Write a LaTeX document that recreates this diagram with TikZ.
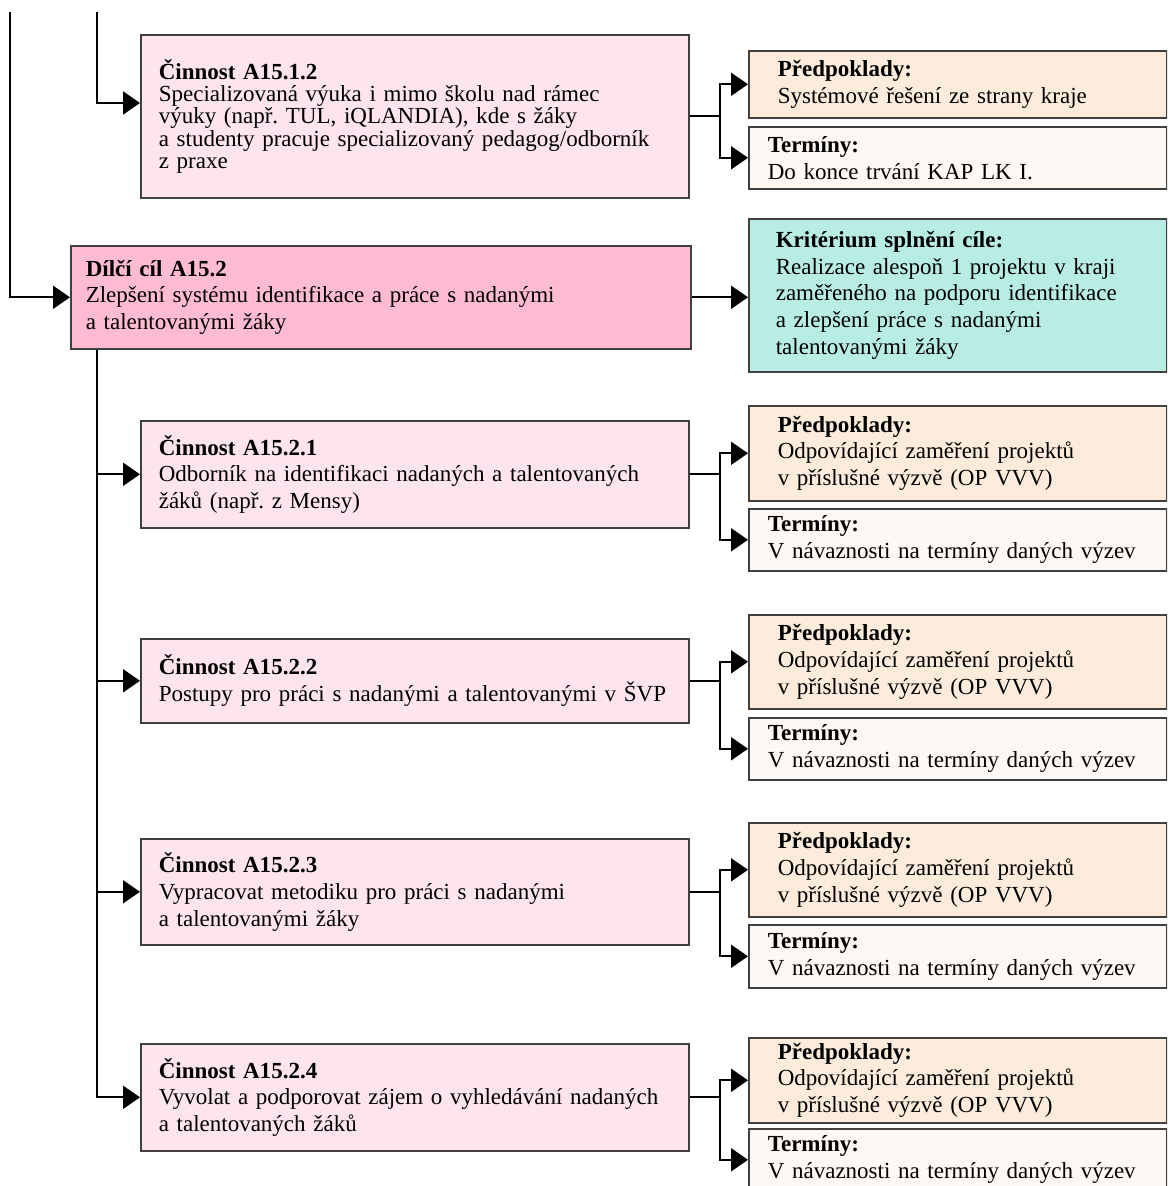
\documentclass[tikz,border=0pt]{standalone}
\usepackage{fontspec}
\setmainfont{Liberation Serif}
\usetikzlibrary{arrows.meta,calc}

\definecolor{actpink}{HTML}{FDE4EE}
\definecolor{goalpink}{HTML}{FFBAD4}
\definecolor{critcyan}{HTML}{B8EDE4}
\definecolor{prepeach}{HTML}{FDEBDB}
\definecolor{termwhite}{HTML}{FEF8F4}

\begin{document}
\frenchspacing
\begin{tikzpicture}[
        x=0.5pt, y=-0.5pt,
        box/.style={draw=black!75, line width=0.8pt, rectangle, anchor=north west, align=left,
            inner ysep=2pt, font=\fontsize{11.5pt}{13.4pt}\selectfont},
        tight/.style={font=\fontsize{11.5pt}{11.2pt}\selectfont},
        act/.style={box, fill=actpink, inner xsep=9pt, text width=256pt},
        goal/.style={box, fill=goalpink, inner xsep=7.5pt, text width=295pt},
        crit/.style={box, fill=critcyan, inner xsep=13.5pt, text width=182pt},
        pre/.style={box, fill=prepeach, inner xsep=14.5pt, text width=180pt},
        term/.style={box, fill=termwhite, inner xsep=9.5pt, text width=190pt},
        arr/.style={draw, line width=1pt, -{Triangle[length=8.5pt,width=11.5pt]}},
    ]
    \useasboundingbox (0,0) rectangle (1167,1186);
    \clip (0,0) rectangle (1167,1186);

    % boxes
    \node[act, tight, minimum height=81.5pt] (a1512) at (140,34)
        {\textbf{Činnost A15.1.2}\\Specializovaná výuka i mimo školu nad rámec\\výuky (např. TUL, iQLANDIA), kde s žáky\\a studenty pracuje specializovaný pedagog/odborník\\z praxe};
    \node[pre, minimum height=33.5pt] (p1) at (748,50)
        {\textbf{Předpoklady:}\\Systémové řešení ze strany kraje};
    \node[term, minimum height=31pt] (t1) at (748,126)
        {\textbf{Termíny:}\\Do konce trvání KAP LK I.};

    \node[goal, minimum height=51.5pt] (dc) at (70,245)
        {\textbf{Dílčí cíl A15.2}\\Zlepšení systému identifikace a práce s nadanými\\a talentovanými žáky};
    \node[crit, minimum height=76.5pt] (krit) at (748,218)
        {\textbf{Kritérium splnění cíle:}\\Realizace alespoň 1 projektu v kraji\\zaměřeného na podporu identifikace\\a zlepšení práce s nadanými\\talentovanými žáky};

    \node[act, minimum height=53.5pt] (a1521) at (140,420)
        {\textbf{Činnost A15.2.1}\\Odborník na identifikaci nadaných a talentovaných\\žáků (např. z Mensy)};
    \node[pre, minimum height=47.5pt] (p2) at (748,405)
        {\textbf{Předpoklady:}\\Odpovídající zaměření projektů\\v příslušné výzvě (OP VVV)};
    \node[term, minimum height=31pt] (t2) at (748,508)
        {\textbf{Termíny:}\\V návaznosti na termíny daných výzev};

    \node[act, minimum height=42pt] (a1522) at (140,638)
        {\textbf{Činnost A15.2.2}\\Postupy pro práci s nadanými a talentovanými v ŠVP};
    \node[pre, minimum height=47pt] (p3) at (748,614)
        {\textbf{Předpoklady:}\\Odpovídající zaměření projektů\\v příslušné výzvě (OP VVV)};
    \node[term, minimum height=31pt] (t3) at (748,717)
        {\textbf{Termíny:}\\V návaznosti na termíny daných výzev};

    \node[act, minimum height=53pt] (a1523) at (140,838)
        {\textbf{Činnost A15.2.3}\\Vypracovat metodiku pro práci s nadanými\\a talentovanými žáky};
    \node[pre, minimum height=47pt] (p4) at (748,822)
        {\textbf{Předpoklady:}\\Odpovídající zaměření projektů\\v příslušné výzvě (OP VVV)};
    \node[term, minimum height=31.5pt] (t4) at (748,924)
        {\textbf{Termíny:}\\V návaznosti na termíny daných výzev};

    \node[act, minimum height=53.5pt] (a1524) at (140,1043)
        {\textbf{Činnost A15.2.4}\\Vyvolat a podporovat zájem o vyhledávání nadaných\\a talentovaných žáků};
    \node[pre, minimum height=42.5pt] (p5) at (748,1037)
        {\textbf{Předpoklady:}\\Odpovídající zaměření projektů\\v příslušné výzvě (OP VVV)};
    \node[term, minimum height=31pt] (t5) at (748,1128)
        {\textbf{Termíny:}\\V návaznosti na termíny daných výzev};

    % left trunks
    \coordinate (top1) at (10,12);
    \coordinate (top2) at (97,12);
    \coordinate (in1512) at (140,103);
    \draw[arr] (top1) |- (dc.west);
    \draw[arr] (top2) |- (in1512);
    \foreach \a in {a1521,a1522,a1523,a1524}
        \draw[arr] (dc.south -| top2) |- (\a.west);

    % right side
    \draw[arr] (dc.east) -- (dc.east -| krit.west);
    \foreach \a/\p/\t in {a1512/p1/t1, a1521/p2/t2, a1522/p3/t3, a1523/p4/t4, a1524/p5/t5} {
        \draw[line width=1pt] (\a.east) -- ++(30,0) coordinate (j);
        \draw[arr] (j) |- (\p.west);
        \draw[arr] (j) |- (\t.west);
    }
\end{tikzpicture}
\end{document}
